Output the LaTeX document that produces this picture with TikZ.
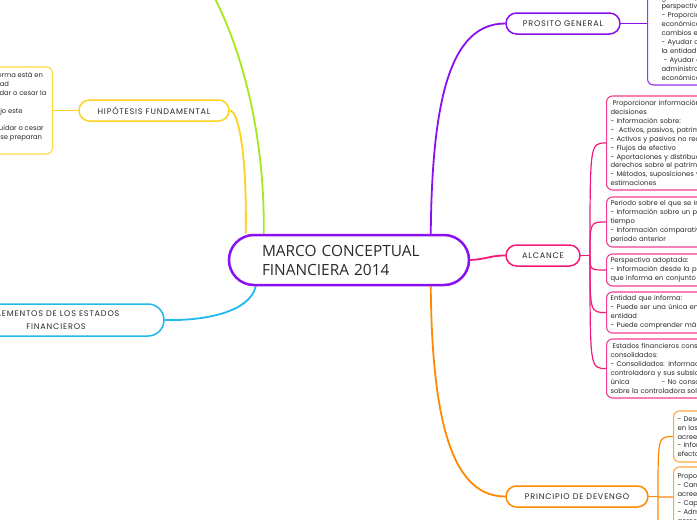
\documentclass[tikz,border=0pt]{standalone}
\usepackage{fontspec}
\setmainfont{Poppins}
\newfontfamily\lblfont[LetterSpace=10]{Poppins}
\newfontfamily\ctrfont{Open Sans}
\usetikzlibrary{calc,backgrounds}
\definecolor{cpurple}{HTML}{8B10F0}
\definecolor{cpink}{HTML}{F5197A}
\definecolor{corange}{HTML}{FF8A00}
\definecolor{corangel}{HTML}{FFB060}
\definecolor{cyellow}{HTML}{FFD21F}
\definecolor{ccyan}{HTML}{22B8F0}
\definecolor{cgreen}{HTML}{A6E81C}
\definecolor{txt}{HTML}{2A2A2A}
\begin{document}
\begin{tikzpicture}[x=1pt,y=-1pt,
  central/.style={draw=cpurple, line width=2.5pt, fill=white, rounded corners=25pt,
    minimum width=240pt, minimum height=50pt, text width=174pt, align=left,
    font=\ctrfont\fontsize{15.4}{19}\selectfont, text=txt, inner sep=0pt},
  branch/.style={draw, fill=white, rounded corners=10.5pt, line width=1.5pt,
    minimum height=21pt, inner sep=0pt, text=txt,
    font=\lblfont\fontsize{8.1}{13}\selectfont},
  detail/.style={draw, fill=white, rounded corners=6pt, line width=1.1pt, align=left,
    text=txt, inner xsep=4pt, inner ysep=0pt, text width=200pt, anchor=west,
    font=\fontsize{6.8}{8.9}\selectfont},
  sidebox/.style={draw, fill=white, rounded corners=6pt, line width=1.1pt, align=left,
    text=txt, inner xsep=6pt, inner ysep=0pt, anchor=east,
    font=\fontsize{6.8}{8.9}\selectfont},
  conn/.style={line width=1.8pt},
  fan/.style={line width=1.2pt}]
\useasboundingbox (0,0) rectangle (697,520);

% central and main branches
\node[central] (c) at (349,260) {MARCO CONCEPTUAL\\FINANCIERA 2014};
\node[branch, draw=cpurple, minimum width=114pt] (pg) at (563,23.5) {PROSITO GENERAL};
\node[branch, draw=cpink, minimum width=74pt] (al) at (543,255.5) {ALCANCE};
\node[branch, draw=corange, minimum width=142pt] (pd) at (577,496.5) {PRINCIPIO DE DEVENGO};
\node[branch, draw=cyellow, minimum width=150pt] (hf) at (154,110.5) {HIPÓTESIS FUNDAMENTAL};
\node[branch, draw=ccyan, minimum width=216pt, minimum height=32pt, rounded corners=16pt,
  align=center] (ef) at (56,320) {ELEMENTOS DE LOS ESTADOS\\FINANCIEROS};

% detail boxes
\node[detail, draw=cpurple!85, minimum height=113pt, inner xsep=14pt] (pgbox) at (647,28.5) {%
Proporcionar información útil para la toma de\\
decisiones económicas a los usuarios\\
generales, desde una\\
perspectiva de la entidad en su conjunto\\
- Proporcionar información sobre los recursos\\
económicos de la entidad, sus obligaciones y los\\
cambios en ellos\\
- Ayudar con la evaluación del desempeño de\\
la entidad\\
\hspace*{2pt}- Ayudar a evaluar la gestión de la\\
administración sobre los recursos\\
económicos de la entidad};

\node[sidebox, draw=cyellow!85, minimum height=87pt] (hbox) at (53,110.5) {%
Negocio en marcha: la entidad que informa está en\\
funcionamiento y continuará su actividad\\
No tiene intención ni necesidad de liquidar o cesar la\\
actividad en el futuro previsible.\\
Los estados financieros se preparan bajo este\\
supuesto.\\
Si existe la intención o necesidad de liquidar o cesar\\
de la actividad, los estados financieros se preparan\\
sobre una base diferente};

\node[detail, draw=cpink!85, minimum height=94pt] (ba) at (606,143) {%
\hspace*{2pt}Proporcionar información útil para la toma de\\
decisiones\\
- Información sobre:\\
-\ \ Activos, pasivos, patrimonio, ingresos y gastos\\
- Activos y pasivos no reconocidos\\
- Flujos de efectivo\\
- Aportaciones y distribuciones a los tenedores de\\
derechos sobre el patrimonio\\
- Métodos, suposiciones y juicios de las\\
estimaciones};

\node[detail, draw=cpink!85, minimum height=50pt] (bb) at (606,222) {%
Periodo sobre el que se informa:\\
- Información sobre un periodo determinado de\\
tiempo\\
- Información comparativa de al menos un\\
periodo anterior};

\node[detail, draw=cpink!85, minimum height=32pt] (bc) at (606,270) {%
Perspectiva adoptada:\\
- Información desde la perspectiva de la entidad\\
que informa en conjunto};

\node[detail, draw=cpink!85, minimum height=41pt] (bd) at (606,312.5) {%
Entidad que informa:\\
- Puede ser una única entidad o una parte de la\\
entidad\\
- Puede comprender más de una entidad};

\node[detail, draw=cpink!85, minimum height=59pt] (be) at (606,368.5) {%
\hspace*{2pt}Estados financieros consolidados y no\\
consolidados:\\
- Consolidados: Información sobre la\\
controladora y sus subsidiarias como entidad\\
única\hspace{32pt}- No consolidados: Información\\
sobre la controladora solamente};

\node[detail, draw=corange!75, minimum height=51pt] (bf) at (673,436.5) {%
- Describir los efectos de las transacciones\\
en los recursos económicos y derechos de los\\
acreedores\\
- Información sobre los flujos de efectivo y sus\\
efectos};

\node[detail, draw=corange!75, minimum height=80pt] (bg) at (673,507) {%
Proporciona información sobre:\\
- Cambios en los recursos económicos y derechos de los\\
acreedores\\
- Capacidad para generar flujos de efectivo\\
- Administración de los recursos económicos\\
acreedores y otros\\
- Desempeño financiero\\
- Otros};

% connectors
\coordinate (gtop) at (205,-20);
\coordinate (aj) at (590,255.5);
\coordinate (oj) at (658,496.5);
\coordinate (odown) at (690,560);
\begin{scope}[on background layer]
\fill[white] (0,0) rectangle (697,520);
\draw[conn, cpurple] ([xshift=203pt]c.north west) .. controls (432,100) and (450,23.5) .. (pg.west);
\draw[conn, cpurple] (pg.east) -- (pg.east -| pgbox.west);
\draw[conn, cgreen] ([xshift=36pt]c.north west) .. controls (265,130) and (240,40) .. (gtop);
\draw[conn, cyellow] ([xshift=18pt]c.north west) .. controls (247,150) and (238,110.5) .. (hf.east);
\draw[conn, cyellow] (hf.west) -- (hf.west -| hbox.east);
\draw[conn, ccyan] ([xshift=28pt]c.south west) .. controls (250,312) and (205,321) .. (ef.east);
\draw[conn, cpink] (c.east) .. controls (488,259) and (490,255.5) .. (al.west);
\draw[conn, cpink] (al.east) -- (aj);
\foreach \b in {ba,bb,bc,bd,be}
  \draw[fan, cpink] (aj) .. controls (aj |- \b.west) .. (\b.west);
\draw[conn, corange] ([xshift=203pt]c.south west) .. controls (432,430) and (455,496.5) .. (pd.west);
\draw[conn, corange] (pd.east) -- (oj);
\draw[fan, corange] (oj) .. controls (oj |- bf.west) .. (bf.west);
\draw[line width=2pt, corangel] (oj) -- (oj -| bg.west);
\draw[fan, corange] (oj) .. controls (oj |- odown) .. (odown);
\end{scope}
\end{tikzpicture}
\end{document}
